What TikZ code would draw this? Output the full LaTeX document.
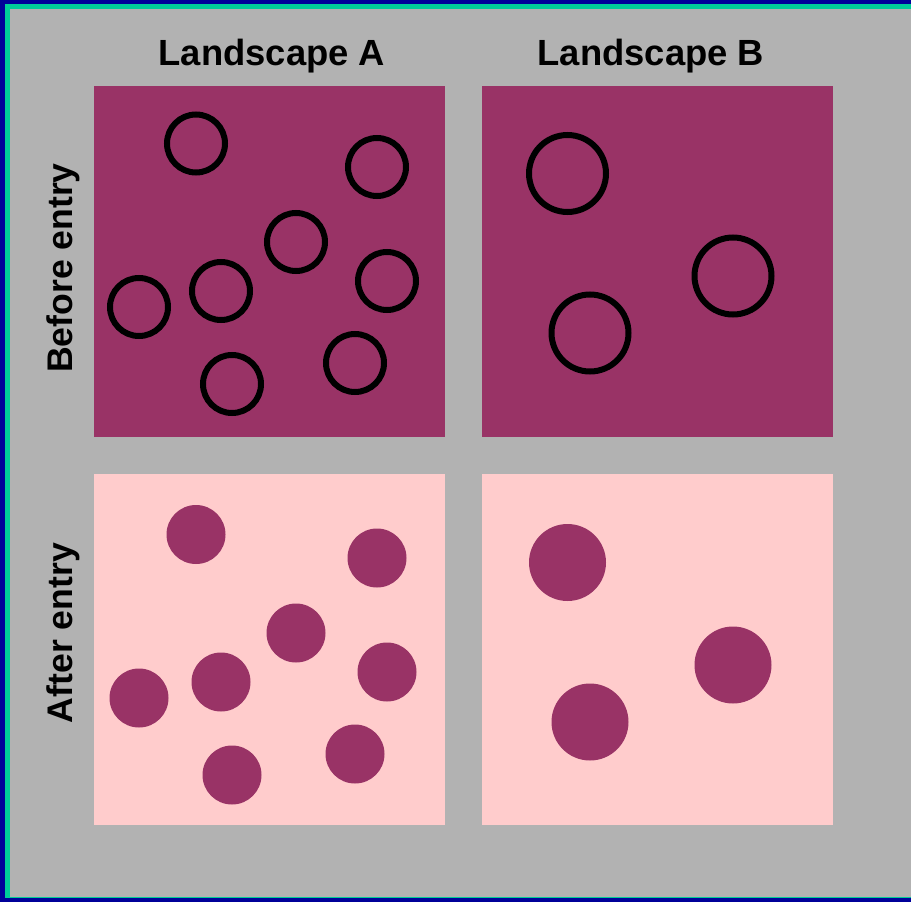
\documentclass[tikz,border=0pt]{standalone}
\usepackage{fontspec}
\setmainfont{Liberation Sans}
\definecolor{navyb}{HTML}{000099}
\definecolor{greenb}{HTML}{00CC99}
\definecolor{bggray}{HTML}{B2B2B2}
\definecolor{plum}{HTML}{993366}
\definecolor{pinkp}{HTML}{FFCCCC}
\tikzset{
  lbl/.style={font=\fontsize{36.4}{42}\selectfont\bfseries, text=black, inner sep=0pt, anchor=base},
  openc/.style={draw=black, line width=6pt},
  fullc/.style={fill=plum},
  panelbox/.style={inner sep=0pt, minimum width=351pt, minimum height=351pt, anchor=north west}
}
\begin{document}
\begin{tikzpicture}[x=1pt,y=-1pt]
\useasboundingbox (0,0) rectangle (911,902);
\fill[navyb] (0,0) rectangle (911,902);
\fill[greenb] (5,4) rectangle (911,898);
\fill[bggray] (10,9) rectangle (911,897);
% panels
\node[panelbox, fill=plum] (pa1) at (94,86) {};
\node[panelbox, fill=plum] (pb1) at (482,86) {};
\node[panelbox, fill=pinkp] (pa2) at (94,474) {};
\node[panelbox, fill=pinkp] (pb2) at (482,474) {};
% labels
\node[lbl] (la) at (272,65) {Landscape A};
\node[lbl] (lb) at (651,65) {Landscape B};
\node[lbl, rotate=90, font=\fontsize{35.6}{42}\selectfont\bfseries] (lbe) at (72,268) {Before entry};
\node[lbl, rotate=90, font=\fontsize{35.6}{42}\selectfont\bfseries] (lae) at (72,633) {After entry};
% landscape A circles
\foreach \cx/\cy in {196/143.5, 377/167, 296/242, 387/281, 221/291, 139/307, 355/363, 232/384}{
  \draw[openc] (\cx,\cy) circle (29);
  \fill[fullc] (\cx,\cy+391) circle (29.5);
}
% landscape B circles
\foreach \cx/\cy in {567.5/173.5, 733/276, 590/333}{
  \draw[openc] (\cx,\cy) circle (38.5);
  \fill[fullc] (\cx,\cy+389) circle (38.5);
}
\end{tikzpicture}
\end{document}
